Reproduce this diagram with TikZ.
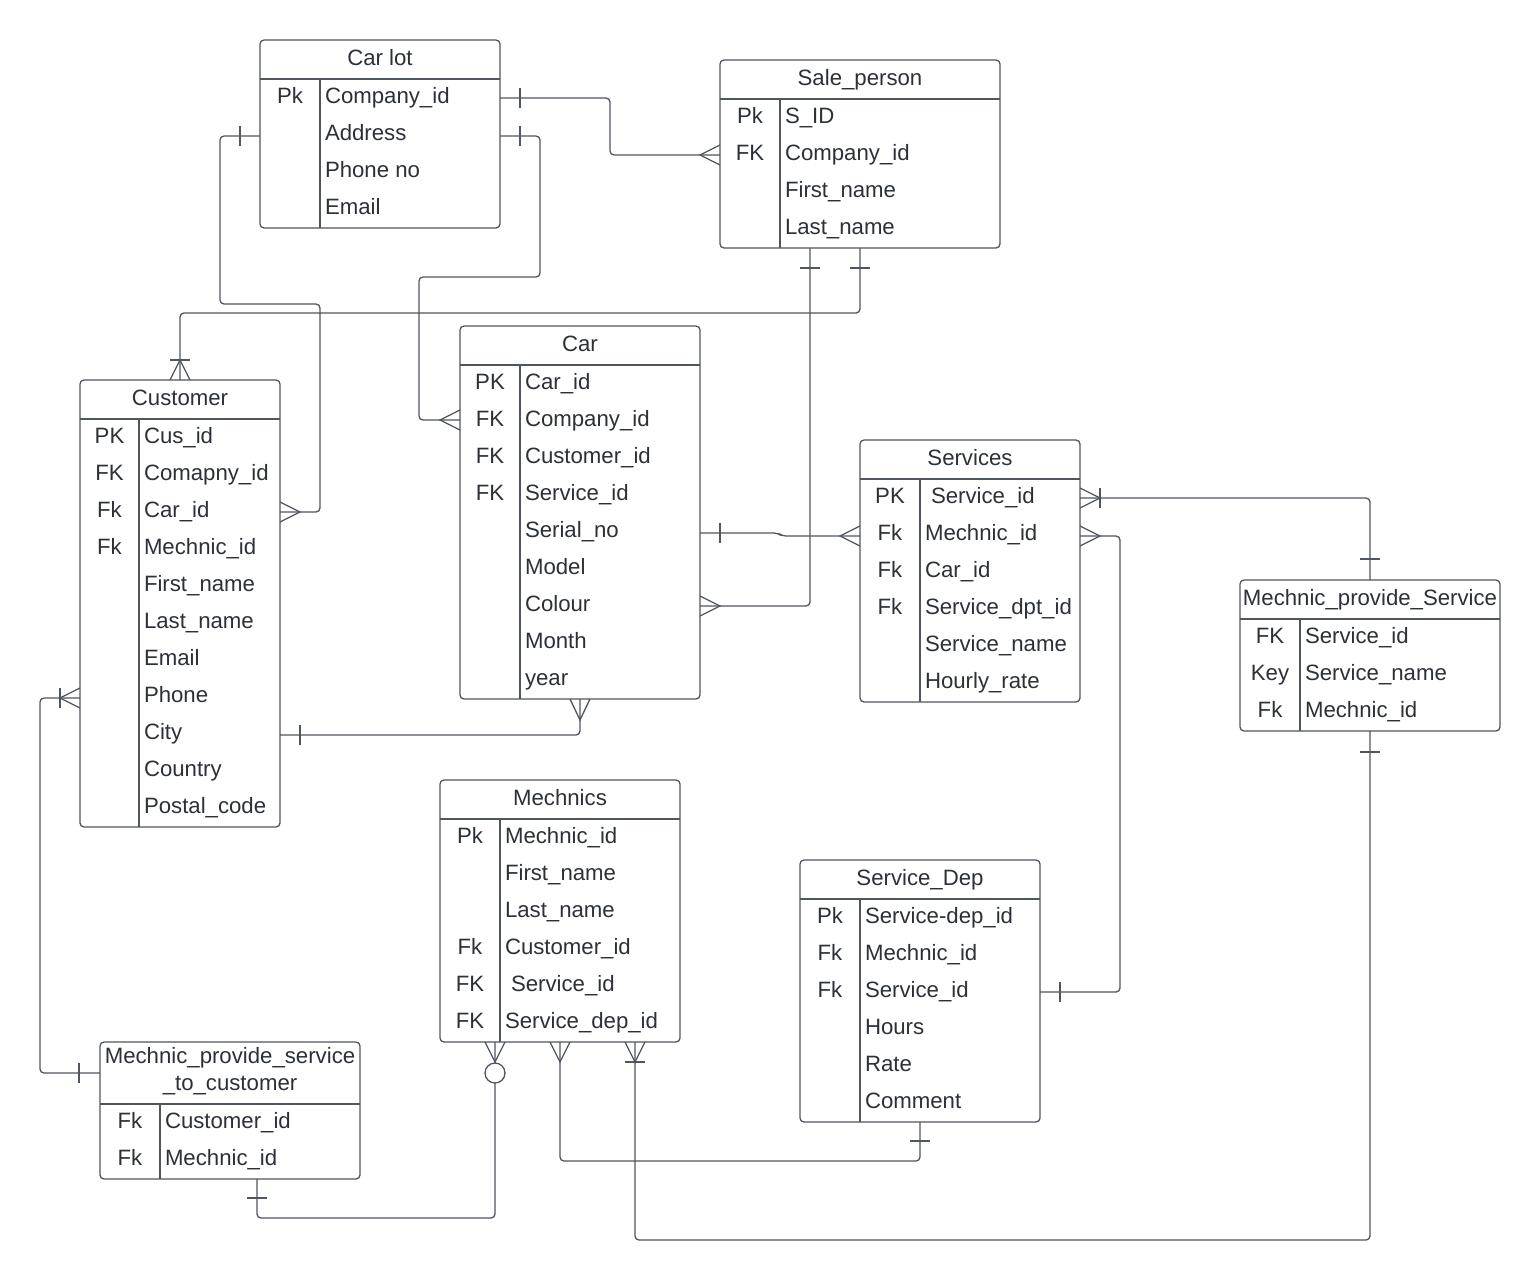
\documentclass[tikz,border=0pt]{standalone}
\usepackage{fontspec}
\setmainfont{Liberation Sans}
\usetikzlibrary{fit}

\definecolor{edge}{HTML}{50565F}
\definecolor{ink}{HTML}{2C3138}

\tikzset{
  tblbox/.style={draw=edge, line width=0.65pt, rounded corners=2pt, inner sep=0pt, outer sep=0pt},
  tblline/.style={draw=edge, line width=0.65pt},
  conn/.style={draw=edge, line width=0.65pt, rounded corners=2pt},
  foot/.style={draw=edge, line width=0.65pt},
  txt/.style={text=ink, font=\fontsize{11.1}{13}\selectfont, inner sep=0pt, outer sep=0pt},
  keytxt/.style={txt, anchor=base},
  fldtxt/.style={txt, anchor=base west},
  ttl/.style={txt, anchor=base},
}

% table frame: name, x1, y1, x2, y2, header bottom, key divider, title
\newcommand\ertable[8]{%
  \node[tblbox, fit={(#2,#3) (#4,#5)}] (#1) {};
  \draw[tblline] (#1.west |- 0,#6) -- (#1.east |- 0,#6);
  \draw[tblline] (#7,#6) -- (#1.south -| #7,0);
  \if\relax\detokenize{#8}\relax\else
    \node[ttl] (#1-title) at ({(#2+#4)/2},{(#3+#6)/2+6}) {#8};
  \fi
  \def\kx{(#2+#7)/2}\def\fx{#7+5}\def\hy{#6}%
}
% row with key: node prefix, row index, key, field
\newcommand\erow[4]{%
  \node[keytxt] (#1k) at ({\kx},{\hy+37*#2-12.5}) {#3};
  \node[fldtxt] (#1f) at ({\fx},{\hy+37*#2-12.5}) {#4};
}
% row without key
\newcommand\efield[3]{%
  \node[fldtxt] (#1f) at ({\fx},{\hy+37*#2-12.5}) {#3};
}

\begin{document}
\begin{tikzpicture}[x=0.5pt, y=-0.5pt]
\fill[white] (0,0) rectangle (1540,1280);
\useasboundingbox (0,0) rectangle (1540,1280);

% ---------------- tables ----------------
\ertable{carlot}{260}{40}{500}{228}{79}{320}{Car lot}
\erow{carlot1}{1}{Pk}{Company\_id}
\efield{carlot2}{2}{Address}
\efield{carlot3}{3}{Phone no}
\efield{carlot4}{4}{Email}

\ertable{salep}{720}{60}{1000}{248}{99}{780}{Sale\_person}
\erow{salep1}{1}{Pk}{S\_ID}
\erow{salep2}{2}{FK}{Company\_id}
\efield{salep3}{3}{First\_name}
\efield{salep4}{4}{Last\_name}

\ertable{cust}{80}{380}{280}{827}{419}{139}{Customer}
\erow{cust1}{1}{PK}{Cus\_id}
\erow{cust2}{2}{FK}{Comapny\_id}
\erow{cust3}{3}{Fk}{Car\_id}
\erow{cust4}{4}{Fk}{Mechnic\_id}
\efield{cust5}{5}{First\_name}
\efield{cust6}{6}{Last\_name}
\efield{cust7}{7}{Email}
\efield{cust8}{8}{Phone}
\efield{cust9}{9}{City}
\efield{cust10}{10}{Country}
\efield{cust11}{11}{Postal\_code}

\ertable{car}{460}{326}{700}{699}{365}{520}{Car}
\erow{car1}{1}{PK}{Car\_id}
\erow{car2}{2}{FK}{Company\_id}
\erow{car3}{3}{FK}{Customer\_id}
\erow{car4}{4}{FK}{Service\_id}
\efield{car5}{5}{Serial\_no}
\efield{car6}{6}{Model}
\efield{car7}{7}{Colour}
\efield{car8}{8}{Month}
\efield{car9}{9}{year}

\ertable{serv}{860}{440}{1080}{702}{479}{920}{Services}
\erow{serv1}{1}{PK}{\hspace{3pt}Service\_id}
\erow{serv2}{2}{Fk}{Mechnic\_id}
\erow{serv3}{3}{Fk}{Car\_id}
\erow{serv4}{4}{Fk}{Service\_dpt\_id}
\efield{serv5}{5}{Service\_name}
\efield{serv6}{6}{Hourly\_rate}

\ertable{mps}{1240}{580}{1500}{731}{619}{1300}{Mechnic\_provide\_Service}
\erow{mps1}{1}{FK}{Service\_id}
\erow{mps2}{2}{Key}{Service\_name}
\erow{mps3}{3}{Fk}{Mechnic\_id}

\ertable{mech}{440}{780}{680}{1042}{819}{500}{Mechnics}
\erow{mech1}{1}{Pk}{Mechnic\_id}
\efield{mech2}{2}{First\_name}
\efield{mech3}{3}{Last\_name}
\erow{mech4}{4}{Fk}{Customer\_id}
\erow{mech5}{5}{FK}{\hspace{3pt}Service\_id}
\erow{mech6}{6}{FK}{Service\_dep\_id}

\ertable{sdep}{800}{860}{1040}{1122}{899}{860}{Service\_Dep}
\erow{sdep1}{1}{Pk}{Service-dep\_id}
\erow{sdep2}{2}{Fk}{Mechnic\_id}
\erow{sdep3}{3}{Fk}{Service\_id}
\efield{sdep4}{4}{Hours}
\efield{sdep5}{5}{Rate}
\efield{sdep6}{6}{Comment}

\ertable{mpsc}{100}{1042}{360}{1179}{1104}{160}{}
\node[ttl] (mpsc-title1) at (230,1063) {Mechnic\_provide\_service};
\node[ttl] (mpsc-title2) at (230,1090) {\_to\_customer};
\erow{mpsc1}{1}{Fk}{Customer\_id}
\erow{mpsc2}{2}{Fk}{Mechnic\_id}

% ---------------- relationships ----------------
% Car lot -- Sale_person
\draw[conn] (carlot.east |- 0,98) -| (610,155) -- (salep.west |- 0,155);
\draw[foot] (520,88) -- (520,108);
\draw[foot] (salep.west |- 0,145) -- (700,155) -- (salep.west |- 0,165);

% Car lot -- Customer
\draw[conn] (carlot.west |- 0,136) -| (220,304) -| (320,512) -- (cust.east |- 0,512);
\draw[foot] (240,126) -- (240,146);
\draw[foot] (cust.east |- 0,502) -- (300,512) -- (cust.east |- 0,522);

% Car lot -- Car
\draw[conn] (carlot.east |- 0,136) -| (540,277) -| (419,420) -- (car.west |- 0,420);
\draw[foot] (520,126) -- (520,146);
\draw[foot] (car.west |- 0,410) -- (440,420) -- (car.west |- 0,430);

% Sale_person -- Car
\draw[conn] (salep.south -| 810,0) |- (car.east |- 0,606);
\draw[foot] (800,268) -- (820,268);
\draw[foot] (car.east |- 0,596) -- (720,606) -- (car.east |- 0,616);

% Sale_person -- Customer
\draw[conn] (salep.south -| 860,0) |- (180,313) -- (cust.north);
\draw[foot] (850,268) -- (870,268);
\draw[foot] (cust.north -| 170,0) -- (180,360) -- (cust.north -| 190,0);
\draw[foot] (170,360) -- (190,360);

% Car -- Services
\draw[conn] (car.east |- 0,533) -- (778,533) -- (782,536) -- (serv.west |- 0,536);
\draw[foot] (720,523) -- (720,543);
\draw[foot] (serv.west |- 0,526) -- (840,536) -- (serv.west |- 0,546);

% Services -- Mechnic_provide_Service
\draw[conn] (mps.north) |- (serv.east |- 0,498);
\draw[foot] (1360,559) -- (1380,559);
\draw[foot] (serv.east |- 0,488) -- (1100,498) -- (serv.east |- 0,508);
\draw[foot] (1100,488) -- (1100,508);

% Services -- Service_Dep
\draw[conn] (serv.east |- 0,536) -| (1120,992) -- (sdep.east |- 0,992);
\draw[foot] (serv.east |- 0,526) -- (1100,536) -- (serv.east |- 0,546);
\draw[foot] (1060,982) -- (1060,1002);

% Car -- Customer
\draw[conn] (car.south) |- (cust.east |- 0,735);
\draw[foot] (car.south -| 570,0) -- (580,720) -- (car.south -| 590,0);
\draw[foot] (300,725) -- (300,745);

% Customer -- Mechnic_provide_service_to_customer
\draw[conn] (cust.west |- 0,698) -| (40,1073) -- (mpsc.west |- 0,1073);
\draw[foot] (cust.west |- 0,688) -- (60,698) -- (cust.west |- 0,708);
\draw[foot] (60,688) -- (60,708);
\draw[foot] (79,1063) -- (79,1083);

% Mechnics -- Mechnic_provide_service_to_customer
\draw[conn] (mech.south -| 495,0) |- (257,1218) -- (mpsc.south -| 257,0);
\draw[foot] (mech.south -| 485,0) -- (495,1062) -- (mech.south -| 505,0);
\draw[foot, fill=white] (495,1073) circle[radius=5pt];
\draw[foot] (247,1198) -- (267,1198);

% Mechnics -- Service_Dep
\draw[conn] (mech.south -| 560,0) |- (920,1161) -- (sdep.south);
\draw[foot] (mech.south -| 550,0) -- (560,1062) -- (mech.south -| 570,0);
\draw[foot] (910,1141) -- (930,1141);

% Mechnics -- Mechnic_provide_Service
\draw[conn] (mech.south -| 635,0) |- (1370,1240) -- (mps.south);
\draw[foot] (mech.south -| 625,0) -- (635,1062) -- (mech.south -| 645,0);
\draw[foot] (625,1062) -- (645,1062);
\draw[foot] (1360,752) -- (1380,752);
\end{tikzpicture}
\end{document}
